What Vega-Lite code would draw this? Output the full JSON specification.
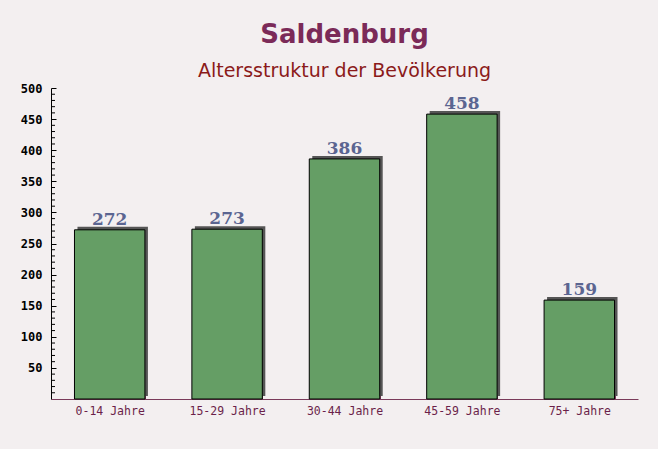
{
  "$schema": "https://vega.github.io/schema/vega-lite/v6.json",
  "width": 587,
  "height": 311,
  "autosize": {"type": "none"},
  "padding": {"left": 51, "top": 88, "right": 20, "bottom": 50},
  "background": "#f3eff0",
  "title": {
    "text": "Saldenburg",
    "subtitle": "Altersstruktur der Bevölkerung",
    "anchor": "middle",
    "font": "DejaVu Sans",
    "fontSize": 26,
    "fontWeight": "bold",
    "color": "#7b2a58",
    "subtitleFont": "DejaVu Sans",
    "subtitleFontSize": 19,
    "subtitleColor": "#8b1a1a",
    "subtitlePadding": 14,
    "offset": 1
  },
  "config": {
    "view": {"stroke": null},
    "axis": {"grid": false}
  },
  "data": {
    "values": [
      {"group": "0-14 Jahre", "value": 272},
      {"group": "15-29 Jahre", "value": 273},
      {"group": "30-44 Jahre", "value": 386},
      {"group": "45-59 Jahre", "value": 458},
      {"group": "75+ Jahre", "value": 159}
    ]
  },
  "encoding": {
    "x": {
      "field": "group",
      "type": "nominal",
      "sort": null,
      "scale": {"paddingInner": 0.4, "paddingOuter": 0.2},
      "axis": {
        "title": null,
        "labelAngle": 0,
        "labelFont": "DejaVu Sans Mono",
        "labelFontSize": 11.5,
        "labelColor": "#6b1f4a",
        "labelPadding": 11,
        "domainColor": "#7a3a5a",
        "tickColor": "#7a3a5a",
        "tickBand": "extent",
        "tickSize": -5
      }
    },
    "y": {
      "field": "value",
      "type": "quantitative",
      "scale": {"domain": [0, 500], "nice": false},
      "axis": {
        "title": null,
        "values": [50, 100, 150, 200, 250, 300, 350, 400, 450, 500],
        "labelFont": "DejaVu Sans Mono",
        "labelFontWeight": "bold",
        "labelFontSize": 12,
        "labelColor": "#000000",
        "labelPadding": 14,
        "domainColor": "#000000",
        "tickColor": "#000000",
        "tickSize": -5
      }
    }
  },
  "layer": [
    {
      "mark": {"type": "bar", "color": "#555555", "xOffset": 3, "yOffset": -3}
    },
    {
      "mark": {"type": "bar", "color": "#659e65", "stroke": "#000000", "strokeWidth": 1}
    },
    {
      "mark": {"type": "rule", "color": "#000000"},
      "data": {"values": [{"v": 10}, {"v": 20}, {"v": 30}, {"v": 40}, {"v": 60}, {"v": 70}, {"v": 80}, {"v": 90}, {"v": 110}, {"v": 120}, {"v": 130}, {"v": 140}, {"v": 160}, {"v": 170}, {"v": 180}, {"v": 190}, {"v": 210}, {"v": 220}, {"v": 230}, {"v": 240}, {"v": 260}, {"v": 270}, {"v": 280}, {"v": 290}, {"v": 310}, {"v": 320}, {"v": 330}, {"v": 340}, {"v": 360}, {"v": 370}, {"v": 380}, {"v": 390}, {"v": 410}, {"v": 420}, {"v": 430}, {"v": 440}, {"v": 460}, {"v": 470}, {"v": 480}, {"v": 490}]},
      "encoding": {
        "x": {"value": 0},
        "x2": {"value": 4},
        "y": {"field": "v", "type": "quantitative"}
      }
    },
    {
      "mark": {"type": "text", "dy": -10, "font": "DejaVu Serif", "fontWeight": "bold", "fontSize": 17, "color": "#5b6591"},
      "encoding": {"text": {"field": "value", "type": "quantitative"}}
    }
  ]
}
